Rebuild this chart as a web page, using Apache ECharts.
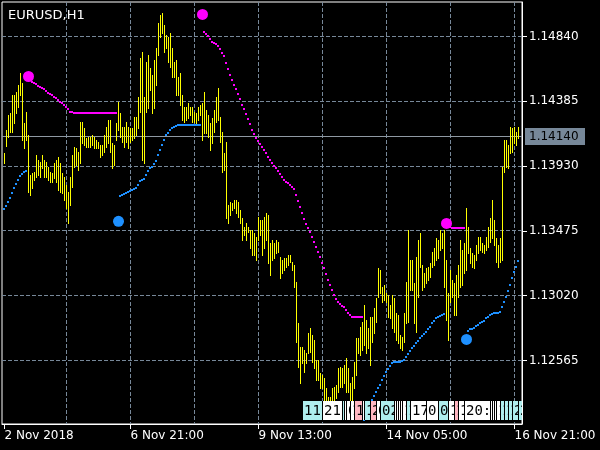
<!DOCTYPE html>
<html><head><meta charset="utf-8">
<script src="https://cdn.jsdelivr.net/npm/echarts@6/dist/echarts.min.js"></script>
<style>html,body{margin:0;padding:0;background:#000;}#c{width:600px;height:450px;}</style>
</head><body><div id="c"></div>
<script>
const symbolName = 'EURUSD,H1';
// H1 bars, index 0 = 2 Nov 2018 06:00 ... 257 = 16 Nov 2018 23:00
const highs = [
1.14019,1.14180,1.14286,1.14300,1.14426,1.14426,1.14447,1.14496,1.14581,1.14510,
1.14230,1.14307,1.14145,1.13865,1.13879,1.13886,1.14005,1.13970,1.13956,1.14005,
1.13970,1.13956,1.13921,1.13886,1.13879,1.13949,1.13970,1.13991,1.13949,1.13879,
1.13851,1.13794,1.13745,1.13851,1.14005,1.14061,1.14054,1.14026,1.14237,1.14237,
1.14194,1.14124,1.14131,1.14131,1.14145,1.14131,1.14110,1.14096,1.14075,1.14075,
1.14145,1.14202,1.14251,1.14251,1.14089,1.14075,1.14230,1.14377,1.14300,1.14202,
1.14202,1.14237,1.14202,1.14194,1.14194,1.14272,1.14272,1.14412,1.14686,1.14728,
1.14412,1.14658,1.14707,1.14616,1.14567,1.14672,1.14756,1.14932,1.14988,1.15002,
1.14918,1.14847,1.14833,1.14861,1.14756,1.14658,1.14672,1.14553,1.14581,1.14426,
1.14342,1.14342,1.14370,1.14342,1.14342,1.14307,1.14300,1.14342,1.14356,1.14370,
1.14447,1.14321,1.14286,1.14230,1.14265,1.14321,1.14412,1.14475,1.14272,1.14166,
1.14019,1.14096,1.13654,1.13675,1.13668,1.13689,1.13689,1.13675,1.13619,1.13563,
1.13500,1.13527,1.13500,1.13478,1.13478,1.13457,1.13429,1.13570,1.13549,1.13549,
1.13570,1.13598,1.13584,1.13387,1.13408,1.13387,1.13408,1.13394,1.13289,1.13268,
1.13282,1.13282,1.13303,1.13303,1.13254,1.13233,1.13113,1.12826,1.12657,1.12657,
1.12636,1.12615,1.12755,1.12790,1.12741,1.12706,1.12566,1.12566,1.12475,1.12461,
1.12439,1.12369,1.12306,1.12306,1.12369,1.12376,1.12390,1.12510,1.12517,1.12510,
1.12531,1.12580,1.12510,1.12404,1.12447,1.12552,1.12720,1.12720,1.12798,1.12833,
1.12952,1.12847,1.12790,1.12868,1.12868,1.12931,1.13001,1.13212,1.13198,1.13078,
1.13092,1.13036,1.13022,1.12952,1.13022,1.13001,1.12896,1.12882,1.12741,1.12727,
1.12896,1.13113,1.13478,1.13268,1.13268,1.13106,1.13289,1.13408,1.13457,1.13233,
1.13177,1.13212,1.13219,1.13247,1.13324,1.13352,1.13422,1.13408,1.13478,1.13457,
1.13478,1.13268,1.13036,1.13198,1.13127,1.13106,1.13163,1.13233,1.13408,1.13338,
1.13387,1.13633,1.13500,1.13352,1.13317,1.13303,1.13373,1.13429,1.13429,1.13387,
1.13373,1.13429,1.13500,1.13563,1.13689,1.13549,1.13422,1.13373,1.13422,1.13921,
1.14110,1.14110,1.14075,1.14202,1.14194,1.14202,1.14166,1.14202
];
const lows = [
1.13949,1.14068,1.14131,1.14166,1.14166,1.14230,1.14300,1.14342,1.14426,1.14110,
1.14054,1.14110,1.13745,1.13724,1.13773,1.13829,1.13851,1.13865,1.13851,1.13914,
1.13851,1.13851,1.13829,1.13815,1.13815,1.13843,1.13815,1.13759,1.13745,1.13738,
1.13689,1.13633,1.13527,1.13654,1.13780,1.13921,1.13935,1.13900,1.13949,1.14089,
1.14075,1.14061,1.14061,1.14061,1.14075,1.14054,1.14054,1.14054,1.13991,1.14005,
1.14026,1.14061,1.14089,1.14026,1.13914,1.13935,1.14110,1.14180,1.14131,1.14096,
1.14061,1.14096,1.14054,1.14096,1.14110,1.14124,1.14145,1.14194,1.14307,1.13970,
1.13949,1.14307,1.14335,1.14461,1.14300,1.14335,1.14496,1.14707,1.14833,1.14861,
1.14728,1.14756,1.14658,1.14623,1.14553,1.14553,1.14426,1.14426,1.14356,1.14251,
1.14237,1.14251,1.14265,1.14286,1.14237,1.14237,1.14230,1.14251,1.14286,1.14110,
1.14159,1.14159,1.14131,1.14040,1.14089,1.14166,1.14237,1.14251,1.14096,1.13886,
1.13900,1.13563,1.13527,1.13584,1.13619,1.13633,1.13598,1.13570,1.13527,1.13408,
1.13443,1.13408,1.13464,1.13352,1.13303,1.13303,1.13268,1.13408,1.13443,1.13303,
1.13352,1.13408,1.13247,1.13163,1.13268,1.13282,1.13317,1.13324,1.13141,1.13177,
1.13198,1.13219,1.13233,1.13254,1.13198,1.13078,1.12692,1.12517,1.12404,1.12545,
1.12482,1.12545,1.12615,1.12622,1.12552,1.12510,1.12425,1.12425,1.12369,1.12369,
1.12285,1.12250,1.12201,1.12187,1.12250,1.12285,1.12299,1.12341,1.12376,1.12376,
1.12404,1.12341,1.12341,1.12285,1.12285,1.12369,1.12461,1.12615,1.12601,1.12636,
1.12671,1.12615,1.12650,1.12531,1.12692,1.12755,1.12833,1.13008,1.13036,1.12973,
1.12987,1.12973,1.12868,1.12861,1.12790,1.12762,1.12706,1.12685,1.12650,1.12636,
1.12692,1.12826,1.12833,1.13057,1.13057,1.12826,1.12762,1.13008,1.13219,1.13057,
1.13078,1.13106,1.13127,1.13149,1.13219,1.13233,1.13268,1.13282,1.13338,1.13352,
1.13078,1.12847,1.12706,1.12973,1.13008,1.12882,1.12882,1.13008,1.13078,1.13092,
1.13177,1.13198,1.13317,1.13247,1.13219,1.13212,1.13268,1.13317,1.13338,1.13324,
1.13317,1.13338,1.13359,1.13394,1.13422,1.13373,1.13254,1.13219,1.13254,1.13268,
1.13886,1.13921,1.13914,1.14019,1.14026,1.14089,1.14075,1.14124
];
const lastPrice = 1.14140;
const lastPriceLabel = '1.14140';

// trailing-stop indicator: upper (magenta) and lower (blue) segments
const lowerAStart = 0;
const lowerA = [1.13626,1.13647,1.13675,1.13703,1.13738,1.13773,1.13801,1.13829,1.13857,1.13872,1.13886,1.13893];
const upperAStart = 14;
const upperA = [1.14517,1.14510,1.14503,1.14489,1.14482,1.14475,1.14468,1.14454,1.14440,1.14433,
1.14426,1.14412,1.14405,1.14391,1.14377,1.14370,1.14356,1.14342,1.14328,1.14307,1.14307,1.14303,
1.14300,1.14300,1.14300,1.14300,1.14300,1.14300,1.14300,1.14300,1.14300,1.14300,1.14300,
1.14300,1.14300,1.14300,1.14300,1.14300,1.14300,1.14300,1.14300,1.14300,1.14300];
const lowerBStart = 58;
const lowerB = [1.13717,1.13724,1.13731,1.13738,1.13745,1.13752,1.13759,1.13766,1.13773,1.13794,
1.13822,1.13829,1.13836,1.13865,1.13893,1.13914,1.13921,1.13942,1.13963,1.14005,
1.14040,1.14075,1.14110,1.14145,1.14159,1.14180,1.14194,1.14202,1.14208,1.14215,
1.14215,1.14215,1.14215,1.14215,1.14215,1.14215,1.14215,1.14215,1.14215,1.14215,1.14215];
const upperBStart = 100;
const upperB = [1.14868,1.14854,1.14840,1.14819,1.14798,1.14791,1.14784,1.14770,1.14749,1.14721,
1.14700,1.14651,1.14609,1.14567,1.14531,1.14496,1.14468,1.14433,1.14398,1.14356,
1.14328,1.14293,1.14258,1.14223,1.14180,1.14152,1.14124,1.14103,1.14082,1.14061,
1.14040,1.14019,1.13991,1.13970,1.13949,1.13928,1.13914,1.13893,1.13872,1.13851,
1.13829,1.13815,1.13808,1.13794,1.13780,1.13766,1.13724,1.13682,1.13640,1.13598,
1.13556,1.13521,1.13492,1.13464,1.13429,1.13394,1.13359,1.13324,1.13289,1.13247,
1.13212,1.13170,1.13127,1.13092,1.13057,1.13022,1.12994,1.12973,1.12959,1.12945,
1.12938,1.12917,1.12896,1.12882,1.12868,1.12868,1.12868,1.12868,1.12868,1.12868];
const lowerCStart = 180;
const lowerC = [1.12145,1.12180,1.12215,1.12250,1.12285,1.12313,1.12341,1.12369,1.12390,1.12425,
1.12453,1.12482,1.12503,1.12524,1.12545,1.12552,1.12552,1.12552,1.12552,1.12559,
1.12566,1.12587,1.12608,1.12629,1.12650,1.12664,1.12685,1.12699,1.12720,1.12734,
1.12748,1.12762,1.12783,1.12798,1.12826,1.12840,1.12861,1.12868,1.12875,1.12882,1.12889];
const upperCStart = 222;
const upperC = [1.13506,1.13500,1.13492,1.13492,1.13492,1.13492,1.13492,1.13492,1.13492];
const lowerDStart = 232;
const lowerD = [1.12769,1.12783,1.12783,1.12790,1.12804,1.12812,1.12826,1.12833,1.12840,1.12861,
1.12868,1.12882,1.12889,1.12896,1.12896,1.12896,1.12903,1.12938,1.12973,1.13008,
1.13050,1.13092,1.13141,1.13184,1.13219,1.13261];
const upperSignalBars = [12, 99, 221];
const upperSignalPrices = [1.14559, 1.14995, 1.13527];
const lowerSignalBars = [57, 231];
const lowerSignalPrices = [1.13542, 1.12713];

// axis ticks
const priceTicks = [1.12565, 1.13020, 1.13475, 1.13930, 1.14385, 1.14840];
const priceTickLabels = ['1.12565','1.13020','1.13475','1.13930','1.14385','1.14840'];
const timeTickBars = [0, 63, 127, 191, 255];
const timeTickLabels = ['2 Nov 2018','6 Nov 21:00','9 Nov 13:00','14 Nov 05:00','16 Nov 21:00'];
const gridBars = [31, 63, 95, 127, 159, 191, 223, 255];

// hour boxes along the bottom
const hourBoxBars = [149,159,169,170,171,173,175,179,180,183,186,188,195,196,197,198,199,201,203,211,217,222,225,227,230,243,244,245,246,248,250,252,254,257];
const hourBoxTexts = ['11:00','21:00','07:00','08:00','09:00','11:00','13:00','17:00','18:00','21:00','00:00','02:00','09:00','10:00','11:00','12:00','13:00','15:00','17:00','01:00','07:00','12:00','15:00','17:00','20:00','09:00','10:00','11:00','12:00','14:00','16:00','18:00','20:00','23:00'];
const hourBoxKinds = ['c','w','c','w','w','w','p','w','c','p','w','c','w','w','w','w','w','c','w','w','c','w','p','w','w','w','w','w','w','c','c','c','c','c'];

const yMin = 1.12119, yMax = 1.15082;
const xMin = -1.25, xMax = 258.75;
const FONT = 'DejaVu Sans';
const boxColors = {c:'#afeeee', w:'#ffffff', p:'#ffb6c1'};

function segPoints(start, vals){ return vals.map((v,k)=>[start+k, v]); }
const upperPts = [].concat(segPoints(upperAStart, upperA), segPoints(upperBStart, upperB), segPoints(upperCStart, upperC));
const lowerPts = [].concat(segPoints(lowerAStart, lowerA), segPoints(lowerBStart, lowerB), segPoints(lowerCStart, lowerC), segPoints(lowerDStart, lowerD));

function dotRenderer(color){
  return function(params, api){
    const c = api.coord([api.value(0), api.value(1)]);
    return {type:'rect', shape:{x: Math.round(c[0]-0.5)-1, y: Math.round(c[1])-1, width:2, height:2}, style:{fill:color}};
  };
}

const chart = echarts.init(document.getElementById('c'), null, {renderer:'canvas', width:600, height:450});
chart.setOption({
  animation: false,
  backgroundColor: '#000',
  title: {text: symbolName, left: 3, top: 4, textStyle:{color:'#fff', fontSize:13, fontWeight:'normal', fontFamily:FONT}},
  grid: {left: 2, right: 78, top: 2, bottom: 26, show: true, borderColor:'#fff', borderWidth:1, backgroundColor:'#000'},
  xAxis: {
    type:'value', min:xMin, max:xMax, position:'bottom',
    axisLine:{show:true, onZero:false, lineStyle:{color:'#fff', width:1}},
    axisTick:{show:true, customValues: timeTickBars, length:5, lineStyle:{color:'#fff'}},
    axisLabel:{show:true, customValues: timeTickBars, formatter: v => timeTickLabels[timeTickBars.indexOf(v)],
      color:'#fff', fontSize:12, fontFamily:FONT, align:'left', margin:6},
    splitLine:{show:false}
  },
  yAxis: {
    type:'value', min:yMin, max:yMax, position:'right', scale:true,
    axisLine:{show:true, onZero:false, lineStyle:{color:'#fff', width:1}},
    axisTick:{show:true, customValues: priceTicks, length:5, lineStyle:{color:'#fff'}},
    axisLabel:{show:true, customValues: priceTicks, formatter: v => priceTickLabels[priceTicks.indexOf(v)],
      color:'#fff', fontSize:12, fontFamily:FONT, margin:7},
    splitLine:{show:false}
  },
  series: [
    { type:'custom', name:'gridV', z:1, silent:true, clip:true,
      data: gridBars.map(b => [b, yMin]),
      renderItem: function(params, api){
        const c = api.coord([api.value(0), api.value(1)]);
        const cs = params.coordSys;
        const x = Math.round(c[0]-0.5)+0.5;
        return {type:'line', shape:{x1:x, y1:cs.y, x2:x, y2:cs.y+cs.height}, style:{stroke:'#778899', lineWidth:1, lineDash:[4,2]}};
      }
    },
    { type:'custom', name:'gridH', z:1, silent:true, clip:true,
      data: priceTicks.map(p => [xMin, p]),
      renderItem: function(params, api){
        const c = api.coord([api.value(0), api.value(1)]);
        const cs = params.coordSys;
        const y = Math.round(c[1]-0.5)+0.5;
        return {type:'line', shape:{x1:cs.x, y1:y, x2:cs.x+cs.width, y2:y}, style:{stroke:'#778899', lineWidth:1, lineDash:[4,2]}};
      }
    },
    { type:'custom', name:'bid', z:2, silent:true, clip:false,
      data: [[xMin, lastPrice]],
      renderItem: function(params, api){
        const c = api.coord([api.value(0), api.value(1)]);
        const cs = params.coordSys;
        const y = Math.round(c[1]-0.5)+0.5;
        const xr = cs.x + cs.width;
        return {type:'group', children:[
          {type:'line', shape:{x1:cs.x, y1:y, x2:xr, y2:y}, style:{stroke:'#8f99a3', lineWidth:1}},
          {type:'rect', shape:{x:xr+3, y:y-8.5, width:60, height:17}, style:{fill:'#778899'}},
          {type:'text', x:xr+7, y:y, style:{text:lastPriceLabel, fill:'#000', font:'12px "DejaVu Sans"', verticalAlign:'middle', align:'left'}}
        ]};
      }
    },
    { type:'custom', name:'EURUSD', z:3, silent:true, clip:true,
      data: highs.map((h,i) => [i, lows[i], h]),
      encode:{x:0, y:[1,2]},
      renderItem: function(params, api){
        const i = api.value(0);
        const lo = api.coord([i, api.value(1)]);
        const hi = api.coord([i, api.value(2)]);
        const x = Math.round(lo[0]-0.5)+0.5;
        return {type:'line', shape:{x1:x, y1:Math.round(hi[1]), x2:x, y2:Math.round(lo[1])+1}, style:{stroke:'#ffff00', lineWidth:1}};
      }
    },
    { type:'custom', name:'upper', z:4, silent:true, clip:true, data: upperPts, renderItem: dotRenderer('#ff00ff') },
    { type:'custom', name:'lower', z:4, silent:true, clip:true, data: lowerPts, renderItem: dotRenderer('#1e90ff') },
    { type:'scatter', name:'upperSignal', z:5, silent:true, symbol:'circle', symbolSize:11,
      data: upperSignalBars.map((b,k)=>[b, upperSignalPrices[k]]), itemStyle:{color:'#ff00ff', opacity:1} },
    { type:'scatter', name:'lowerSignal', z:5, silent:true, symbol:'circle', symbolSize:11,
      data: lowerSignalBars.map((b,k)=>[b, lowerSignalPrices[k]]), itemStyle:{color:'#1e90ff', opacity:1} },
    { type:'custom', name:'hours', z:6, silent:true, clip:true,
      data: hourBoxBars.map((b,k) => [b, yMin, k]),
      renderItem: function(params, api){
        const k = api.value(2);
        const c = api.coord([api.value(0), api.value(1)]);
        const xl = Math.round(c[0]-0.5);
        const yb = Math.round(c[1]);
        return {type:'group', children:[
          {type:'rect', shape:{x:xl, y:yb-23, width:46, height:19}, style:{fill: boxColors[hourBoxKinds[k]]}},
          {type:'line', shape:{x1:xl+0.5, y1:yb-23, x2:xl+0.5, y2:yb-4}, style:{stroke:'#000', lineWidth:1}},
          {type:'text', x: xl+2, y: yb-13, style:{text: hourBoxTexts[k], fill:'#000', font:'14px "DejaVu Sans Mono"', verticalAlign:'middle', align:'left'}}
        ]};
      }
    }
  ]
});
</script>
</body></html>
